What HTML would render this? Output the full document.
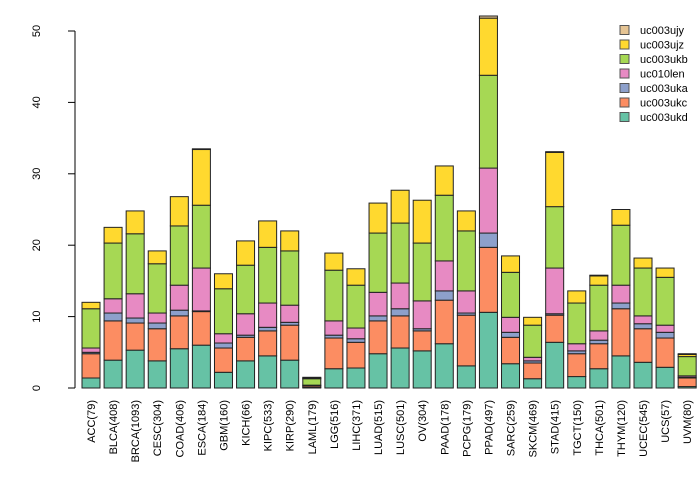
<!DOCTYPE html>
<html><head><meta charset="utf-8"><style>
body{margin:0;background:#fff}
svg{font-family:"Liberation Sans",sans-serif}
</style></head><body>
<svg id="chart" width="700" height="480"></svg>
<script>
const categories=["ACC(79)","BLCA(408)","BRCA(1093)","CESC(304)","COAD(406)","ESCA(184)","GBM(160)","KICH(66)","KIPC(533)","KIRP(290)","LAML(179)","LGG(516)","LIHC(371)","LUAD(515)","LUSC(501)","OV(304)","PAAD(178)","PCPG(179)","PPAD(497)","SARC(259)","SKCM(469)","STAD(415)","TGCT(150)","THCA(501)","THYM(120)","UCEC(545)","UCS(57)","UVM(80)"];
const seriesNames=["uc003ukd","uc003ukc","uc003uka","uc010len","uc003ukb","uc003ujz","uc003ujy"];
const ukd=[1.4,3.9,5.3,3.8,5.5,6.0,2.2,3.8,4.5,3.9,0.1,2.7,2.8,4.8,5.6,5.2,6.2,3.1,10.6,3.4,1.3,6.4,1.6,2.7,4.5,3.6,2.9,0.2];
const ukc=[3.4,5.5,3.8,4.5,4.6,4.7,3.4,3.3,3.5,4.9,0.2,4.3,3.6,4.6,4.5,2.8,6.1,7.1,9.1,3.7,2.2,3.8,3.2,3.5,6.6,4.7,4.1,1.2];
const uka=[0.2,1.1,0.7,0.8,0.8,0.1,0.7,0.3,0.5,0.4,0.0,0.4,0.5,0.7,1.0,0.3,1.3,0.3,2.0,0.7,0.3,0.2,0.4,0.5,0.8,0.7,0.8,0.1];
const len=[0.6,2.0,3.4,1.4,3.5,6.0,1.3,3.0,3.4,2.4,0.1,2.0,1.5,3.3,3.6,3.9,4.2,3.1,9.1,2.1,0.5,6.4,1.0,1.3,2.5,1.1,1.0,0.2];
const ukb=[5.5,7.8,8.4,6.9,8.3,8.8,6.3,6.8,7.8,7.6,0.9,7.1,6.0,8.3,8.4,8.1,9.2,8.4,13.0,6.3,4.5,8.6,5.7,6.4,8.4,6.7,6.7,2.7];
const ujz=[0.9,2.2,3.2,1.8,4.1,7.8,2.1,3.4,3.7,2.8,0.1,2.4,2.3,4.2,4.6,6.0,4.1,2.8,8.0,2.3,1.1,7.6,1.7,1.3,2.2,1.4,1.3,0.3];
const ujy=[0,0,0,0,0,0.1,0,0,0,0,0.1,0,0,0,0,0,0,0,0.3,0,0,0.1,0,0.1,0,0,0,0.1];
const yTicks=[0,10,20,30,40,50];
const series=[ukd,ukc,uka,len,ukb,ujz,ujy];
const colors=["#66C2A5","#FC8D62","#8DA0CB","#E78AC3","#A6D854","#FFD92F","#E5C494"];
const NS="http://www.w3.org/2000/svg";
const svg=document.getElementById('chart');
function el(t,a,p){const e=document.createElementNS(NS,t);for(const k in a)e.setAttribute(k,a[k]);(p||svg).appendChild(e);return e;}
const y0=388,ppu=7.14;
function Y(v){return y0-v*ppu;}
const x0=91,step=22.08,bw=18;
function X(i){return x0+i*step;}
const ax=el('g',{});


el('line',{x1:75,x2:75,y1:Y(0),y2:Y(50),stroke:'#000'},ax);
yTicks.forEach(t=>{
 el('line',{x1:68,x2:75,y1:Y(t),y2:Y(t),stroke:'#000'},ax);
 const tx=el('text',{x:0,y:0,'font-size':11,'text-anchor':'middle',transform:`translate(${40},${Y(t)}) rotate(-90)`},ax);
 
 
 tx.textContent=t;
});
categories.forEach((c,i)=>{
 let cum=0;
 series.forEach((s,k)=>{
  const v=s[i];
  const r=el('rect',{x:X(i)-bw/2,y:Y(cum+v),width:bw,height:v*ppu,fill:colors[k],stroke:'#222','stroke-width':1});
  
  
  cum+=v;
 });
 const tx=el('text',{x:0,y:0,'font-size':11,'text-anchor':'end',transform:`translate(${X(i)+4},${400}) rotate(-90)`});
 
 
 tx.textContent=c;
});
const lg=el('g',{});


for(let k=6;k>=0;k--){
 const row=6-k, yy=30+row*14.5;
 const b=el('rect',{x:620,y:yy-4.5,width:9,height:9,fill:colors[k],stroke:'#555'},lg);
 
 
 const t=el('text',{x:640,y:yy+4,'font-size':11,fill:'#000'},lg);
 
 
 t.textContent=seriesNames[k];
}
</script>
</body></html>
